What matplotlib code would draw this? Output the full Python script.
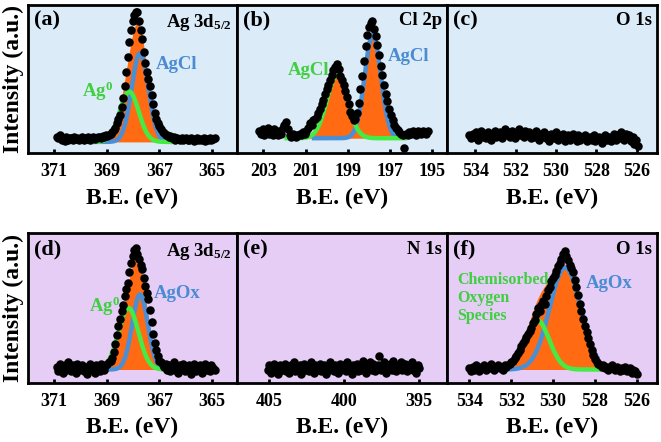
import numpy as np
import matplotlib
matplotlib.use('Agg')
import matplotlib.pyplot as plt

plt.rcParams['font.family'] = 'Liberation Serif'
plt.rcParams['font.weight'] = 'bold'
plt.rcParams['mathtext.fontset'] = 'custom'
plt.rcParams['mathtext.rm'] = 'Liberation Serif:bold'
plt.rcParams['mathtext.it'] = 'Liberation Serif:bold'
plt.rcParams['mathtext.bf'] = 'Liberation Serif:bold'
plt.rcParams['mathtext.default'] = 'bf'

# ---- measured spectra (normalised intensity) ----
a_y = [0.11, 0.1, 0.12, 0.09, 0.1, 0.08, 0.11, 0.09, 0.1, 0.1,
       0.085, 0.11, 0.095, 0.1, 0.09, 0.1, 0.11, 0.09, 0.1, 0.095,
       0.105, 0.09, 0.1, 0.11, 0.095, 0.1, 0.105, 0.11, 0.1, 0.115,
       0.11, 0.12,
       0.115, 0.12, 0.13, 0.14, 0.155, 0.17, 0.2, 0.23, 0.26, 0.31,
       0.37, 0.45, 0.55, 0.65, 0.75, 0.83, 0.89, 0.93, 0.95, 0.955,
       0.89, 0.83, 0.77, 0.68, 0.61, 0.55, 0.5, 0.45, 0.39, 0.33,
       0.27, 0.23, 0.2, 0.18, 0.16, 0.145, 0.135, 0.125, 0.12,
       0.11, 0.115, 0.1, 0.105, 0.09, 0.1, 0.095, 0.085, 0.1, 0.09,
       0.095, 0.1, 0.085, 0.09, 0.1, 0.095, 0.08, 0.09, 0.1, 0.085,
       0.095, 0.09, 0.1, 0.08, 0.095, 0.09, 0.1, 0.085, 0.095, 0.1]
a_x = np.linspace(370.9, 364.9, len(a_y))

b_y = [0.15, 0.13, 0.16, 0.12, 0.14, 0.17, 0.13, 0.15, 0.12, 0.16,
       0.14, 0.12, 0.15, 0.13, 0.17, 0.19,
       0.21, 0.16, 0.12, 0.11, 0.13, 0.12, 0.11, 0.12, 0.13, 0.12,
       0.14, 0.13, 0.15, 0.17, 0.2, 0.19, 0.22, 0.23, 0.24, 0.27,
       0.3, 0.33, 0.36, 0.4, 0.43, 0.46, 0.49, 0.53, 0.56, 0.58,
       0.6, 0.57, 0.52, 0.49, 0.46, 0.42, 0.38, 0.33, 0.28, 0.25,
       0.22, 0.23, 0.27, 0.34, 0.43, 0.52, 0.62, 0.72, 0.8, 0.85,
       0.88, 0.89, 0.84, 0.79, 0.73, 0.66, 0.59, 0.53, 0.46, 0.4,
       0.35, 0.3, 0.26, 0.22, 0.19, 0.17, 0.155, 0.14, 0.13, 0.12,
       0.035, 0.13, 0.12, 0.14, 0.13, 0.15, 0.14, 0.12, 0.15, 0.14,
       0.13, 0.15, 0.14, 0.13, 0.15]
b_x = np.linspace(203.2, 195.2, len(b_y))

c_y = [0.12, 0.10, 0.13, 0.11, 0.14, 0.09, 0.12, 0.15, 0.11, 0.13,
       0.10, 0.14, 0.12, 0.09, 0.13, 0.15, 0.11, 0.12, 0.14, 0.10,
       0.13, 0.16, 0.12, 0.14, 0.11, 0.15, 0.13, 0.10, 0.14, 0.16,
       0.12, 0.13, 0.11, 0.15, 0.12, 0.14, 0.10, 0.13, 0.11, 0.15,
       0.12, 0.09, 0.13, 0.11, 0.14, 0.10, 0.12, 0.08, 0.13, 0.11,
       0.10, 0.14, 0.09, 0.12, 0.11, 0.13, 0.08, 0.10, 0.12, 0.09,
       0.11, 0.13, 0.10, 0.08, 0.12, 0.09, 0.11, 0.10, 0.12, 0.08,
       0.10, 0.11, 0.09, 0.12, 0.08, 0.10, 0.11, 0.09, 0.07, 0.10,
       0.12, 0.09, 0.11, 0.08, 0.10, 0.13, 0.09, 0.12, 0.10, 0.14,
       0.11, 0.09, 0.13, 0.10, 0.12, 0.08, 0.11, 0.06, 0.09, 0.05]
c_x = np.linspace(534.3, 525.95, len(c_y))

d_y = [0.11, 0.08, 0.13, 0.10, 0.07, 0.12, 0.09, 0.14, 0.10, 0.08,
       0.12, 0.11, 0.07, 0.13, 0.09, 0.10, 0.12, 0.08, 0.11, 0.06,
       0.10, 0.13, 0.09, 0.11, 0.07, 0.12, 0.10, 0.08, 0.13, 0.11,
       0.09, 0.12,
       0.13, 0.14, 0.15, 0.17, 0.21, 0.26, 0.32, 0.38, 0.43, 0.48,
       0.52, 0.58, 0.63, 0.67, 0.74, 0.80, 0.85, 0.89, 0.90, 0.86,
       0.83, 0.79, 0.76, 0.70, 0.65, 0.60, 0.56, 0.49, 0.41, 0.33,
       0.27, 0.22, 0.18, 0.15, 0.14, 0.12,
       0.11, 0.13, 0.09, 0.12, 0.08, 0.10, 0.14, 0.09, 0.11, 0.07,
       0.12, 0.10, 0.13, 0.08, 0.11, 0.09, 0.12, 0.06, 0.10, 0.13,
       0.08, 0.11, 0.09, 0.12, 0.07, 0.10, 0.13, 0.09, 0.11, 0.08,
       0.12, 0.10, 0.09]
d_x = np.linspace(370.9, 364.9, len(d_y))

e_y = [0.09, 0.12, 0.07, 0.10, 0.13, 0.08, 0.11, 0.06, 0.12, 0.09,
       0.10, 0.13, 0.08, 0.11, 0.07, 0.12, 0.10, 0.14, 0.08, 0.11,
       0.09, 0.12, 0.06, 0.10, 0.13, 0.09, 0.11, 0.08, 0.14, 0.10,
       0.07, 0.12, 0.09, 0.11, 0.13, 0.08, 0.10, 0.12, 0.06, 0.11,
       0.09, 0.14, 0.10, 0.08, 0.12, 0.11, 0.07, 0.13, 0.09, 0.10,
       0.12, 0.08, 0.14, 0.11, 0.09, 0.06, 0.12, 0.10, 0.13, 0.08,
       0.11, 0.09, 0.15, 0.10, 0.07, 0.12, 0.11, 0.14, 0.09, 0.13,
       0.08, 0.10, 0.12, 0.18, 0.09, 0.11, 0.14, 0.07, 0.12, 0.10,
       0.13, 0.09, 0.15, 0.11, 0.08, 0.12, 0.10, 0.14, 0.09, 0.11,
       0.13, 0.08, 0.12, 0.10, 0.14, 0.09, 0.11, 0.07, 0.12, 0.10]
e_x = np.linspace(405.1, 395.0, len(e_y))

f_y = [0.1, 0.08, 0.11, 0.09, 0.12, 0.1, 0.08, 0.11, 0.1, 0.12,
       0.09, 0.11, 0.1, 0.13, 0.1, 0.09, 0.11, 0.12, 0.1, 0.11,
       0.09, 0.12, 0.11,
       0.12, 0.13, 0.14, 0.15, 0.17, 0.18, 0.2, 0.22, 0.25, 0.27,
       0.29, 0.31, 0.33, 0.35, 0.37, 0.4, 0.42, 0.46, 0.5, 0.48,
       0.52, 0.55, 0.53, 0.58, 0.62, 0.64, 0.68, 0.7, 0.72, 0.75,
       0.78, 0.8, 0.83, 0.86, 0.88, 0.85, 0.82, 0.79, 0.77, 0.74,
       0.69, 0.64, 0.59, 0.53, 0.48, 0.43, 0.38, 0.34, 0.3, 0.26,
       0.22, 0.19, 0.16, 0.14, 0.13, 0.12,
       0.11, 0.12, 0.1, 0.11, 0.09, 0.1, 0.12, 0.1, 0.09, 0.11,
       0.1, 0.08, 0.1, 0.09, 0.11, 0.08, 0.09, 0.1, 0.07, 0.09,
       0.08, 0.06]
f_x = np.linspace(534.0, 526.0, len(f_y))

# ---- fitted components: centre (eV), height, FWHM (eV) ----
a_green = (368.15, 0.34, 0.85)
a_blue = (367.74, 0.60, 0.75)
b_green = (199.50, 0.43, 1.15)
b_blue = (197.82, 0.70, 0.90)
d_green = (368.18, 0.41, 0.90)
d_blue = (367.74, 0.50, 0.70)
f_green = (530.76, 0.33, 1.35)
f_blue = (529.42, 0.68, 1.75)

BLUE_BG = '#dcebf8'
PURPLE_BG = '#e5cdf6'
ORANGE = '#ff6a12'
LBLUE = '#4a8fd6'
LGREEN = '#45ea45'
TBLUE = '#4a8bd2'
TGREEN = '#3fcf3f'


def peak(x, p):
    c, h, w = p
    return h * np.exp(-4 * np.log(2) * (x - c) ** 2 / w ** 2)


def panel(rect, bg, xlim, ticks, x, y, tag, title):
    ax = fig.add_axes(rect)
    ax.set_facecolor(bg)
    ax.set_xlim(*xlim)
    ax.set_ylim(0, 1)
    ax.set_xticks(ticks)
    ax.set_yticks([])
    ax.tick_params(axis='x', direction='in', length=3, width=2, pad=7, labelsize=13)
    for s in ax.spines.values():
        s.set_linewidth(2)
    ax.scatter(x, y, s=26, color='black', zorder=4, clip_on=False)
    ax.text(0.03, 0.96, tag, transform=ax.transAxes, fontsize=16, va='top', ha='left')
    ax.text(0.975, 0.95, title, transform=ax.transAxes, fontsize=13.5, va='top', ha='right')
    return ax


def fit(ax, base, green, blue, grange, brange):
    xs = np.linspace(grange[0], grange[1], 300)
    tot = peak(xs, green) + peak(xs, blue)
    ax.fill_between(xs, base, base + tot, color=ORANGE, lw=0, zorder=1)
    xb = np.linspace(brange[0], brange[1], 300)
    ax.plot(xb, base + peak(xb, blue), color=LBLUE, lw=3.2, zorder=2)
    ax.plot(xs, base + peak(xs, green), color=LGREEN, lw=3.2, zorder=3)


fig = plt.figure(figsize=(6.61, 4.42), dpi=100)
W, H = 661.0, 442.0
cols = [(28, 237), (237, 447), (447, 657)]
top = (5, 153)
bot = (233, 383)


def rect(c, r):
    return [c[0] / W, 1 - r[1] / H, (c[1] - c[0]) / W, (r[1] - r[0]) / H]


title_ag = r'Ag 3d$_{5/2}$'

ax = panel(rect(cols[0], top), BLUE_BG, (372.0, 364.05), [371, 369, 367, 365], a_x, a_y, '(a)', title_ag)
fit(ax, 0.075, a_green, a_blue, (369.8, 366.4), (369.5, 366.6))
ax.text(0.61, 0.595, 'AgCl', transform=ax.transAxes, color=TBLUE, fontsize=13.5, va='center')
ax.text(0.26, 0.42, r'Ag$^{0}$', transform=ax.transAxes, color=TGREEN, fontsize=13.5, va='center')

ax = panel(rect(cols[1], top), BLUE_BG, (204.25, 194.3), [203, 201, 199, 197, 195], b_x, b_y, '(b)', 'Cl 2p')
fit(ax, 0.1, b_green, b_blue, (201.9, 196.3), (200.6, 196.8))
ax.text(0.24, 0.56, 'AgCl', transform=ax.transAxes, color=TGREEN, fontsize=13.5, va='center')
ax.text(0.72, 0.65, 'AgCl', transform=ax.transAxes, color=TBLUE, fontsize=13.5, va='center')

ax = panel(rect(cols[2], top), BLUE_BG, (535.4, 525.0), [534, 532, 530, 528, 526], c_x, c_y, '(c)', 'O 1s')

ax = panel(rect(cols[0], bot), PURPLE_BG, (372.0, 364.05), [371, 369, 367, 365], d_x, d_y, '(d)', title_ag)
fit(ax, 0.09, d_green, d_blue, (369.8, 366.4), (369.5, 366.6))
ax.text(0.6, 0.6, 'AgOx', transform=ax.transAxes, color=TBLUE, fontsize=13.5, va='center')
ax.text(0.29, 0.51, r'Ag$^{0}$', transform=ax.transAxes, color=TGREEN, fontsize=13.5, va='center')

ax = panel(rect(cols[1], bot), PURPLE_BG, (407.15, 393.15), [405, 400, 395], e_x, e_y, '(e)', 'N 1s')

ax = panel(rect(cols[2], bot), PURPLE_BG, (535.07, 525.03), [534, 532, 530, 528, 526], f_x, f_y, '(f)', 'O 1s')
fit(ax, 0.09, f_green, f_blue, (532.4, 526.9), (532.3, 527.9))
ax.text(0.66, 0.66, 'AgOx', transform=ax.transAxes, color=TBLUE, fontsize=13.5, va='center')
for txt, yy in zip(['Chemisorbed', 'Oxygen', 'Species'], [0.69, 0.57, 0.45]):
    ax.text(0.05, yy, txt, transform=ax.transAxes, color=TGREEN, fontsize=11.5, va='center', ha='left')

# axis titles
for c in cols:
    xc = (c[0] + c[1]) / 2 / W
    fig.text(xc, 1 - 198 / H, 'B.E. (eV)', fontsize=17, ha='center', va='center')
    fig.text(xc, 1 - 427 / H, 'B.E. (eV)', fontsize=17, ha='center', va='center')
fig.text(13 / W, 1 - 79 / H, 'Intensity (a.u.)', fontsize=17, rotation=90, ha='center', va='center')
fig.text(13 / W, 1 - 308 / H, 'Intensity (a.u.)', fontsize=17, rotation=90, ha='center', va='center')

fig.savefig('out.png', dpi=100)
